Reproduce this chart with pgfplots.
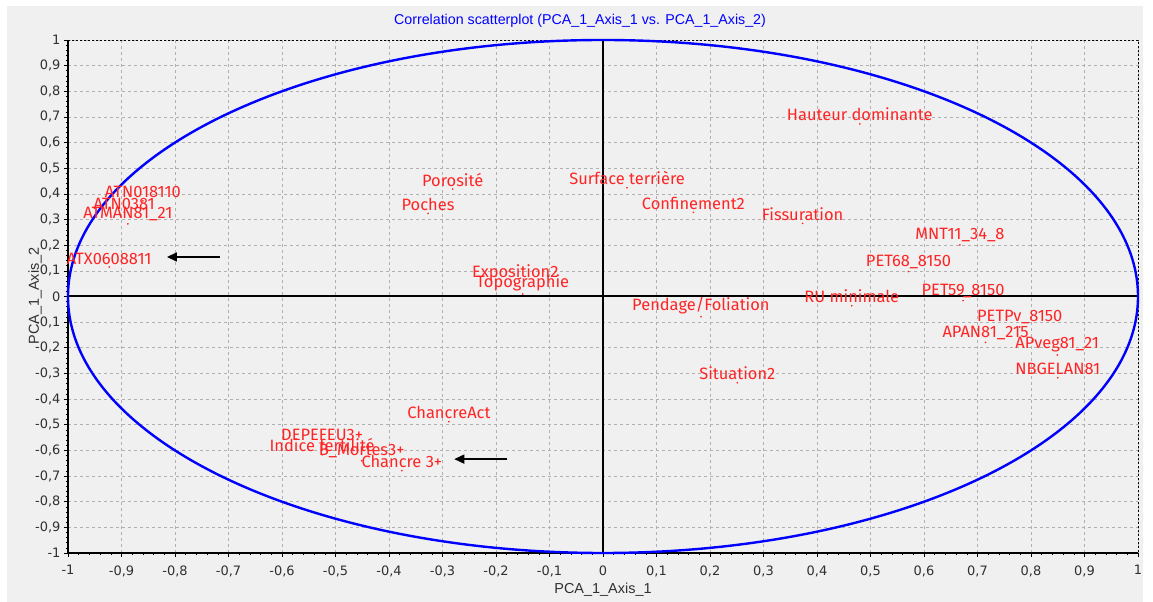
\documentclass[border=0pt]{standalone}
\usepackage{fontspec}
\setmainfont{Liberation Sans}
\newfontfamily\labfont{Fira Sans}
\newfontfamily\tickfont{DejaVu Sans}
\usepackage{pgfplots}
\pgfplotsset{compat=1.18}
\usetikzlibrary{arrows.meta}

\definecolor{bg}{HTML}{F0F0F0}
\definecolor{gridc}{HTML}{B0B0B0}
\definecolor{lab}{HTML}{FF2424}
\definecolor{tickc}{HTML}{303030}

\begin{document}
\begin{tikzpicture}
% panel
\fill[white] (0bp,0bp) rectangle (1153bp,602bp);
\fill[bg] (7bp,0bp) rectangle (1143bp,596bp);

\begin{axis}[
    at={(68bp,49bp)}, anchor=south west,
    scale only axis, width=1070bp, height=513bp,
    xmin=-1, xmax=1, ymin=-1, ymax=1,
    axis line style={draw=none},
    xtick={-1,-0.9,-0.8,-0.7,-0.6,-0.5,-0.4,-0.3,-0.2,-0.1,0,0.1,0.2,0.3,0.4,0.5,0.6,0.7,0.8,0.9,1},
    ytick={-1,-0.9,-0.8,-0.7,-0.6,-0.5,-0.4,-0.3,-0.2,-0.1,0,0.1,0.2,0.3,0.4,0.5,0.6,0.7,0.8,0.9,1},
    xtick pos=bottom, ytick pos=left,
    tick align=outside,
    major tick length=4bp,
    minor x tick num=4, minor y tick num=4,
    minor tick length=2bp,
    tick style={black, line width=0.6bp},
    grid=major,
    major grid style={gridc, dash pattern=on 3bp off 3bp, line width=0.6bp},
    /pgf/number format/.cd, use comma, fixed, precision=1, assume math mode=true,
    /pgfplots/.cd,
    ticklabel style={font=\tickfont\fontsize{13}{13}\selectfont, text=tickc},
    xticklabel style={yshift=-5bp},
    yticklabel style={xshift=0bp},
    clip=false,
]
% frame
\draw[black, dash pattern=on 2bp off 2bp, line width=0.8bp] (rel axis cs:0,1) -- (rel axis cs:1,1) -- (rel axis cs:1,0);
\draw[black, line width=2bp] (rel axis cs:0,1) -- (rel axis cs:0,0) -- (rel axis cs:1,0);
% zero lines
\draw[black, line width=2bp] (axis cs:0,-1) -- (axis cs:0,1);
\draw[black, line width=2bp] (axis cs:-1,0) -- (axis cs:1,0);
% correlation circle
\draw[blue, line width=2.4bp] (axis cs:0,0) ellipse [x radius=1, y radius=1];

\addplot[only marks, mark=*, mark size=0.6bp, lab,
    point meta=explicit symbolic,
    nodes near coords,
    every node near coord/.append style={anchor=south, inner sep=0pt, yshift=2.5bp,
        font=\labfont\fontsize{16.5}{17}\selectfont, text=lab},
] coordinates {
    (-0.860,0.373) [ATN018110]
    (-0.895,0.329) [ATN0381]
    (-0.888,0.283) [ATMAN81\_21]
    (-0.923,0.115) [ATX0608811]
    (-0.281,0.419) [Porosité]
    (-0.327,0.324) [Poches]
    (0.045,0.424) [Surface terrière]
    (0.169,0.328) [Confinement2]
    (-0.164,0.049) [Exposition2]
    (-0.150,0.010) [Topographie]
    (0.480,0.673) [Hauteur dominante]
    (0.373,0.285) [Fissuration]
    (0.667,0.201) [MNT11\_34\_8]
    (0.571,0.097) [PET68\_8150]
    (0.465,-0.036) [RU minimale]
    (0.673,-0.016) [PET59\_8150]
    (0.779,-0.119) [PETPv\_8150]
    (0.715,-0.179) [APAN81\_215]
    (0.849,-0.228) [APveg81\_21]
    (0.850,-0.317) [NBGELAN81]
    (0.183,-0.079) [Pendage/Foliation]
    (0.251,-0.336) [Situation2]
    (-0.288,-0.488) [ChancreAct]
    (-0.376,-0.679) [Chancre 3+]
    (-0.525,-0.571) [DEPEFEU3+]
    (-0.525,-0.617) [Indice fertilité]
    (-0.451,-0.640) [B\_Mortes3+]
};

% arrows
\draw[black, line width=1.6bp, -{Triangle[length=10bp, width=9bp]}] (axis cs:-0.716,0.154) -- (axis cs:-0.815,0.154);
\draw[black, line width=1.6bp, -{Triangle[length=10bp, width=9bp]}] (axis cs:-0.179,-0.634) -- (axis cs:-0.278,-0.634);
\end{axis}

% title and axis names
\node[font=\fontsize{14.3}{16}\selectfont, text=blue] at (580bp,581bp) {Correlation scatterplot (PCA\_1\_Axis\_1 vs. PCA\_1\_Axis\_2)};
\node[font=\fontsize{14.5}{16}\selectfont, text=tickc] at (603bp,12bp) {PCA\_1\_Axis\_1};
\node[font=\fontsize{14.5}{16}\selectfont, text=tickc, rotate=90] at (35bp,306bp) {PCA\_1\_Axis\_2};

\pgfresetboundingbox
\useasboundingbox (0bp,0bp) rectangle (1153bp,602bp);
\end{tikzpicture}
\end{document}
